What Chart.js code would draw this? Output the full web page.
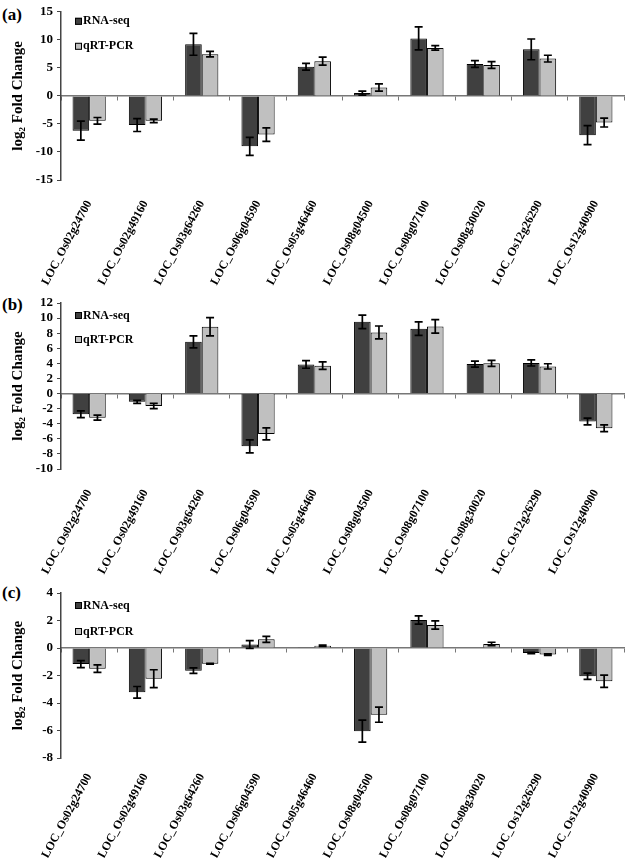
<!DOCTYPE html>
<html>
<head>
<meta charset="utf-8">
<script src="https://cdn.jsdelivr.net/npm/chart.js@4/dist/chart.umd.min.js"></script>
<style>
body { margin: 0; background: #fff; }
canvas { position: absolute; left: 0; }
.tag { position: absolute; left: 2px; font: bold 17px "Liberation Serif", serif; color: #000; }
</style>
</head>
<body>
<div class="tag" style="top:5px">(a)</div>
<div class="tag" style="top:295px">(b)</div>
<div class="tag" style="top:583px">(c)</div>
<canvas id="chartA" width="625" height="290" style="top:0px"></canvas>
<canvas id="chartB" width="625" height="285" style="top:290px"></canvas>
<canvas id="chartC" width="625" height="283" style="top:575px"></canvas>
<script>
var genes = ['LOC_Os02g24700', 'LOC_Os02g49160', 'LOC_Os03g64260', 'LOC_Os06g04590', 'LOC_Os05g46460',
    'LOC_Os08g04500', 'LOC_Os08g07100', 'LOC_Os08g30020', 'LOC_Os12g26290', 'LOC_Os12g40900'];
var seriesNames = ['RNA-seq', 'qRT-PCR'];

// panel (a)
var rnaA = [-6.2, -5.2, 9.2, -9.0, 5.2, 0.5, 10.25, 5.7, 8.3, -7.0];
var rnaErrA = [1.7, 1.15, 1.95, 1.6, 0.6, 0.35, 2.05, 0.6, 1.85, 1.7];
var pcrA = [-4.45, -4.45, 7.45, -6.9, 6.2, 1.5, 8.55, 5.5, 6.65, -4.75];
var pcrErrA = [0.6, 0.3, 0.5, 1.2, 0.7, 0.65, 0.4, 0.6, 0.6, 0.8];

// panel (b)
var rnaB = [-2.75, -1.1, 6.85, -7.0, 3.85, 9.5, 8.6, 3.9, 4.05, -3.7];
var rnaErrB = [0.45, 0.2, 0.8, 0.85, 0.5, 0.9, 0.9, 0.4, 0.4, 0.45];
var pcrB = [-3.2, -1.65, 8.85, -5.35, 3.7, 8.1, 8.9, 4.0, 3.6, -4.6];
var pcrErrB = [0.33, 0.35, 1.2, 0.8, 0.5, 0.85, 0.9, 0.4, 0.35, 0.45];

// panel (c)
var rnaC = [-1.17, -3.22, -1.65, 0.25, 0.05, -6.05, 2.04, 0.03, -0.36, -2.05];
var rnaErrC = [0.25, 0.42, 0.2, 0.28, 0, 0.8, 0.3, 0, 0.05, 0.23];
var pcrC = [-1.5, -2.23, -1.14, 0.63, 0.17, -4.85, 1.67, 0.3, -0.48, -2.42];
var pcrErrC = [0.27, 0.65, 0.03, 0.22, 0.05, 0.55, 0.3, 0.12, 0.05, 0.45];

Chart.defaults.font.family = '"Liberation Serif", "Times New Roman", serif';
Chart.defaults.font.weight = 'bold';
Chart.defaults.color = '#000';

// error bars drawn from the y scale
var errorBars = {
    id: 'errorBars',
    afterDatasetsDraw: function (chart) {
        var ctx = chart.ctx, y = chart.scales.y;
        ctx.save();
        ctx.strokeStyle = '#000';
        ctx.lineWidth = 1.7;
        chart.data.datasets.forEach(function (ds, i) {
            var meta = chart.getDatasetMeta(i);
            meta.data.forEach(function (bar, j) {
                var e = ds.errors[j];
                if (!e) return;
                var top = y.getPixelForValue(ds.data[j] + e);
                var bot = y.getPixelForValue(ds.data[j] - e);
                ctx.beginPath();
                ctx.moveTo(bar.x, top); ctx.lineTo(bar.x, bot);
                ctx.moveTo(bar.x - 4, top); ctx.lineTo(bar.x + 4, top);
                ctx.moveTo(bar.x - 4, bot); ctx.lineTo(bar.x + 4, bot);
                ctx.stroke();
            });
        });
        ctx.restore();
    }
};

// small legend inside the plot, top left
var boxLegend = {
    id: 'boxLegend',
    afterDraw: function (chart, args, opts) {
        var ctx = chart.ctx, a = chart.chartArea;
        ctx.save();
        ctx.font = 'bold 12px "Liberation Serif", serif';
        ctx.textBaseline = 'middle';
        chart.data.datasets.forEach(function (ds, i) {
            var x = a.left + 14, y = a.top + opts.top + i * opts.gap;
            ctx.fillStyle = ds.backgroundColor;
            ctx.fillRect(x, y - 3, 7, 7);
            ctx.strokeStyle = '#000';
            ctx.lineWidth = 1;
            ctx.strokeRect(x + 0.5, y - 2.5, 6, 6);
            ctx.fillStyle = '#000';
            ctx.fillText(ds.label, x + 8, y + 0.5);
        });
        ctx.restore();
    }
};

function makePanel(id, rna, rnaErr, pcr, pcrErr, yMin, yMax, step, padTop, xHeight, labelPad, legTop, legGap) {
    var ctx = document.getElementById(id).getContext('2d');
    return new Chart(ctx, {
        type: 'bar',
        data: {
            labels: genes,
            datasets: [{
                    label: seriesNames[0],
                    data: rna,
                    errors: rnaErr,
                    backgroundColor: '#404040',
                    borderColor: '#000',
                    borderWidth: 1,
                    barPercentage: 1,
                    categoryPercentage: 0.59
                }, {
                    label: seriesNames[1],
                    data: pcr,
                    errors: pcrErr,
                    backgroundColor: '#c0c0c0',
                    borderColor: '#000',
                    borderWidth: 1,
                    barPercentage: 1,
                    categoryPercentage: 0.59
                }]
        },
        options: {
            responsive: false,
            animation: false,
            layout: {padding: {top: padTop, right: 1, left: 0, bottom: 0}},
            plugins: {
                legend: {display: false},
                tooltip: {enabled: false},
                boxLegend: {top: legTop, gap: legGap}
            },
            scales: {
                x: {
                    grid: {display: false},
                    border: {display: false},
                    ticks: {
                        autoSkip: false,
                        minRotation: 62,
                        maxRotation: 62,
                        padding: labelPad,
                        font: {size: 12, weight: 'bold'}
                    },
                    afterFit: function (scale) { scale.height = xHeight; }
                },
                x2: {
                    type: 'category',
                    labels: genes,
                    position: {y: 0},
                    offset: true,
                    grid: {offset: true, drawOnChartArea: false, tickLength: 4, color: '#777', lineWidth: 1},
                    border: {display: true, color: '#777', width: 1.5},
                    ticks: {display: false},
                    afterFit: function (scale) { scale.height = 0; }
                },
                y: {
                    min: yMin,
                    max: yMax,
                    ticks: {stepSize: step, autoSkip: false, padding: 4, font: {size: 13, weight: 'bold'}},
                    grid: {drawOnChartArea: false, tickLength: 4, color: '#444'},
                    border: {display: true, color: '#444', width: 1.5},
                    title: {
                        display: true,
                        text: 'log\u2082 Fold Change',
                        font: {size: 15, weight: 'bold'},
                        padding: {top: 9, bottom: 0}
                    },
                    afterFit: function (scale) { scale.width = 61; }
                }
            }
        },
        plugins: [errorBars, boxLegend]
    });
}

makePanel('chartA', rnaA, rnaErrA, pcrA, pcrErrA, -15, 15, 5, 7, 110, 10, 9, 25);
makePanel('chartB', rnaB, rnaErrB, pcrB, pcrErrB, -10, 12, 2, 13, 106, 10, 12, 24);
makePanel('chartC', rnaC, rnaErrC, pcrC, pcrErrC, -8, 4, 2, 18, 100, 5, 12, 26);
</script>
</body>
</html>
